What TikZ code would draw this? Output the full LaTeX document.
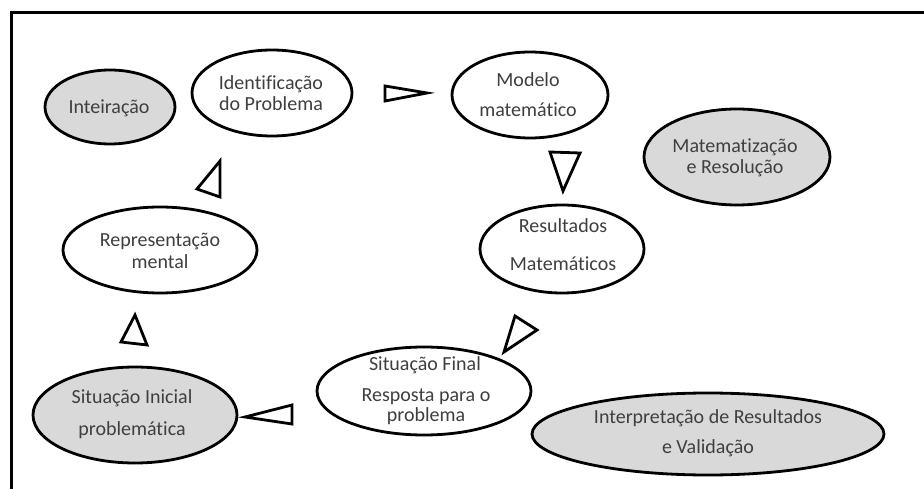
\documentclass[tikz,border=0pt]{standalone}
\usepackage{fontspec}
\setmainfont[Ligatures=NoCommon]{Carlito}
\usetikzlibrary{shapes.geometric}
\definecolor{ovalgray}{HTML}{D9D9D9}
\definecolor{txtgray}{HTML}{3F3F3F}
\tikzset{
  oval/.style={ellipse, draw=black, line width=2.8pt, inner sep=0pt},
  grayoval/.style={oval, fill=ovalgray},
  whiteoval/.style={oval, fill=white},
  lbl/.style={text=txtgray, align=center, inner sep=0pt},
  tri/.style={draw=black, line width=2.8pt, line join=miter, fill=white},
  frameline/.style={draw=black, line width=3pt}
}
\begin{document}
\begin{tikzpicture}[x=1pt,y=-1pt]
\useasboundingbox (0,0) rectangle (924,489);
% frame
\coordinate (fr1) at (924,13);
\coordinate (fr2) at (11,13);
\coordinate (fr3) at (11,489);
\draw[frameline] (fr1) -- (fr2) -- (fr3);

% ellipses
\node[grayoval, minimum width=130pt, minimum height=74pt] (inte) at (110,107) {};
\node[whiteoval, minimum width=160pt, minimum height=86pt] (ident) at (272,93) {};
\node[whiteoval, minimum width=156pt, minimum height=86pt] (model) at (530,95) {};
\node[grayoval, minimum width=186pt, minimum height=96pt] (matres) at (737,157) {};
\node[whiteoval, minimum width=164pt, minimum height=88pt] (result) at (562,249) {};
\node[whiteoval, minimum width=194pt, minimum height=86pt] (repr) at (160,250) {};
\node[grayoval, minimum width=204pt, minimum height=96pt] (sitini) at (135,415) {};
\node[whiteoval, minimum width=214pt, minimum height=88pt] (sitfin) at (424,391) {};
\node[grayoval, minimum width=352pt, minimum height=82pt] (interp) at (708,434) {};

% labels
\node[lbl, font=\fontsize{20}{21}\selectfont] (tinte) at (109,108) {Inteiração};
\node[lbl, font=\fontsize{20}{21}\selectfont] (tident) at (271,93) {Identificação\\do Problema};
\node[lbl, font=\fontsize{20}{30}\selectfont] (tmodel) at (528,95) {Modelo\\matemático};
\node[lbl, font=\fontsize{20}{21}\selectfont] (tmatres) at (735,158) {Matematização\\e Resolução};
\node[lbl, font=\fontsize{20}{38}\selectfont] (tresult) at (563,245) {Resultados\\Matemáticos};
\node[lbl, font=\fontsize{20}{22}\selectfont] (trepr) at (160,251) {Representação\\mental};
\node[lbl, font=\fontsize{20}{32}\selectfont] (tsitini) at (132,414) {Situação Inicial\\problemática};
\node[lbl, font=\fontsize{20}{21}\selectfont] (tsitfin1) at (425,365) {Situação Final};
\node[lbl, font=\fontsize{20}{20}\selectfont] (tsitfin2) at (426,407) {Resposta para o\\problema};
\node[lbl, font=\fontsize{20}{30}\selectfont] (tinterp) at (708,433) {Interpretação de Resultados\\e Validação};

% triangular arrow symbols
\draw[tri] (385,86) -- (385,101) -- (427,93) -- cycle;
\draw[tri] (550,152) -- (580,153) -- (563,191) -- cycle;
\draw[tri] (504,352) -- (515,316) -- (537,330) -- cycle;
\draw[tri] (245,417) -- (292,405) -- (292,424) -- cycle;
\draw[tri] (135,315) -- (121,342) -- (147,345) -- cycle;
\draw[tri] (220,161) -- (220,197) -- (197,189) -- cycle;
\end{tikzpicture}
\end{document}
